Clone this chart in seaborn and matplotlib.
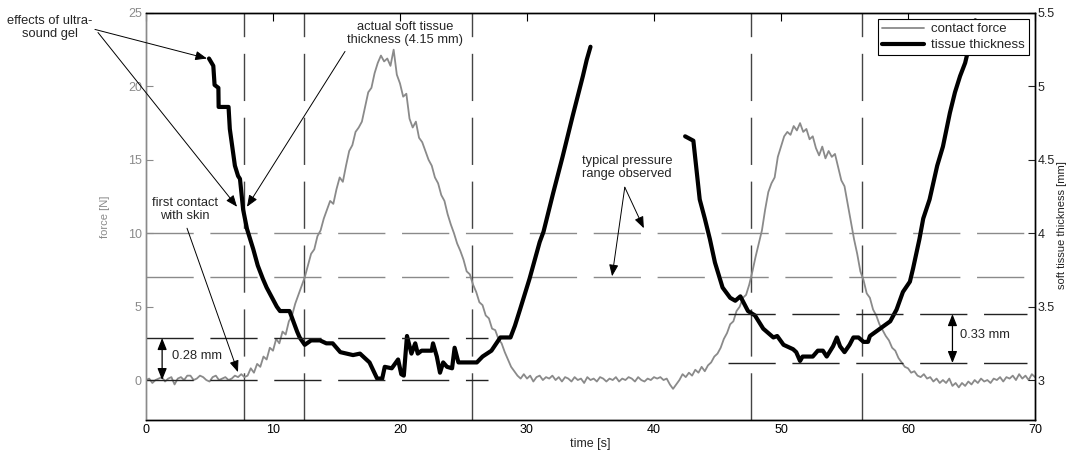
import matplotlib
matplotlib.use("Agg")
import matplotlib.pyplot as plt
from matplotlib.lines import Line2D
import seaborn as sns

# contact force [N], sampled every 0.25 s from 0 to 70 s
force_t = [i * 0.25 for i in range(281)]
force_n = [
    # 0 - 8 s
    0.0, 0.1, -0.2, 0.0, 0.1, 0.2, -0.1, 0.1, 0.2, -0.3, 0.1, 0.2, 0.0, 0.3, 0.3, 0.0,
    0.1, 0.3, 0.2, 0.0, -0.1, 0.2, 0.3, 0.0, 0.1, 0.2, 0.0, 0.1, 0.3, 0.2, 0.4, 0.2, 0.3,
    # 8.25 - 16 s
    0.8, 0.5, 1.1, 0.9, 1.6, 1.4, 2.2, 2.0, 2.8, 2.5, 3.3, 3.1, 4.0, 4.4, 5.2, 5.8,
    6.4, 7.0, 7.8, 8.6, 8.9, 9.8, 10.2, 11.0, 11.6, 12.2, 12.0, 13.0, 13.8, 13.5, 14.6, 15.6,
    # 16.25 - 24 s
    16.0, 16.9, 17.2, 17.6, 18.6, 19.6, 19.9, 20.9, 21.6, 22.1, 21.7, 21.9, 21.4, 22.5, 20.8, 20.2,
    19.3, 19.5, 17.8, 17.2, 17.6, 16.5, 16.2, 15.6, 15.0, 14.6, 13.8, 13.4, 12.6, 12.2, 11.3, 10.6,
    # 24.25 - 32 s
    10.0, 9.3, 8.8, 8.2, 7.4, 7.2, 6.5, 6.0, 5.3, 5.1, 4.4, 4.2, 3.5, 3.4, 2.8, 2.5,
    1.9, 1.4, 0.9, 0.6, 0.3, 0.1, 0.4, 0.1, 0.3, -0.1, 0.2, 0.3, 0.0, 0.2, 0.1, 0.3,
    # 32.25 - 40 s
    0.0, 0.2, -0.1, 0.2, 0.1, -0.1, 0.2, 0.0, 0.1, -0.2, 0.2, 0.0, 0.1, -0.1, 0.2, 0.1,
    -0.1, 0.1, 0.0, 0.2, -0.1, 0.1, 0.0, 0.2, 0.1, -0.1, 0.2, 0.0, -0.1, 0.1, 0.0, 0.2,
    # 40.25 - 48 s
    0.1, 0.2, 0.0, 0.1, -0.3, -0.6, -0.3, 0.0, 0.4, 0.2, 0.5, 0.3, 0.7, 0.5, 0.9, 0.6,
    1.0, 1.2, 1.6, 1.8, 2.2, 2.8, 3.2, 3.8, 4.0, 4.7, 5.0, 5.6, 5.8, 6.5, 7.4, 8.4,
    # 48.25 - 56 s
    9.3, 10.2, 11.6, 12.8, 13.4, 13.8, 15.2, 15.9, 16.6, 16.9, 16.7, 17.3, 17.0, 17.5, 16.9, 17.1,
    16.4, 16.6, 15.8, 15.3, 15.9, 15.1, 15.6, 15.2, 15.4, 14.5, 13.6, 13.2, 12.0, 10.8, 9.6, 8.6,
    # 56.25 - 64 s
    7.4, 6.8, 5.9, 5.6, 4.8, 4.4, 3.8, 3.4, 3.0, 2.7, 2.2, 2.0, 1.5, 1.2, 0.9, 0.8,
    0.5, 0.6, 0.3, 0.2, 0.4, 0.1, 0.2, -0.1, 0.1, -0.2, 0.0, -0.2, 0.1, -0.4, -0.2, -0.5,
    # 64.25 - 70 s
    -0.2, -0.4, -0.1, -0.3, 0.0, -0.2, 0.1, -0.1, 0.0, -0.2, 0.1, 0.0, 0.2, -0.1, 0.2, 0.1,
    0.3, 0.0, 0.4, 0.1, 0.3, 0.0, 0.4, 0.2,
]

# tissue thickness [mm], first loading cycle
thick1_t = [4.96, 5.3, 5.4, 5.7, 5.72, 6.5, 6.6, 7.0, 7.25, 7.4,
            7.65, 7.95, 8.45, 8.8, 9.2, 9.5, 10.3, 10.55, 11.3, 11.9,
            12.1, 12.5, 13.0, 13.7, 14.2, 14.7, 15.3, 16.3, 16.85, 17.6,
            18.2, 18.6, 18.8, 19.35, 19.85, 20.1, 20.3, 20.55, 20.9, 21.2,
            21.4, 21.7, 22.5, 22.6, 22.9, 23.15, 23.4, 23.7, 24.1, 24.3,
            24.6, 26.05, 26.5, 27.2, 27.9, 28.7, 29.05, 29.45, 30.2, 31.0,
            31.3, 32.05, 32.8, 33.6, 34.4, 34.7, 35.0]
thick1_mm = [5.19, 5.14, 5.01, 4.99, 4.86, 4.86, 4.71, 4.46, 4.39, 4.37,
             4.16, 4.03, 3.89, 3.78, 3.69, 3.63, 3.50, 3.47, 3.47, 3.33,
             3.29, 3.24, 3.27, 3.27, 3.25, 3.25, 3.19, 3.17, 3.18, 3.12,
             3.01, 3.01, 3.09, 3.08, 3.14, 3.04, 3.03, 3.30, 3.18, 3.25,
             3.18, 3.20, 3.20, 3.25, 3.16, 3.05, 3.12, 3.09, 3.08, 3.22,
             3.12, 3.12, 3.16, 3.20, 3.29, 3.29, 3.37, 3.48, 3.69, 3.94,
             4.01, 4.27, 4.52, 4.80, 5.07, 5.18, 5.27]

# tissue thickness [mm], second loading cycle
thick2_t = [42.45, 43.1, 43.6, 44.0, 44.4, 44.8, 45.4, 46.0, 46.4, 46.8,
            47.4, 47.95, 48.6, 49.4, 49.7, 50.2, 50.95, 51.2, 51.5, 51.7,
            52.5, 52.9, 53.3, 53.6, 54.1, 54.4, 54.65, 55.0, 55.4, 55.7,
            56.1, 56.5, 56.85, 57.0, 57.8, 58.6, 59.1, 59.6, 60.15, 60.4,
            60.9, 61.2, 61.7, 62.3, 62.75, 63.3, 63.7, 64.1, 64.5, 65.3]
thick2_mm = [4.66, 4.63, 4.23, 4.10, 3.96, 3.80, 3.63, 3.56, 3.54, 3.57,
             3.47, 3.44, 3.35, 3.29, 3.30, 3.24, 3.21, 3.19, 3.13, 3.16,
             3.16, 3.20, 3.20, 3.16, 3.23, 3.29, 3.23, 3.19, 3.24, 3.29,
             3.29, 3.26, 3.26, 3.30, 3.35, 3.40, 3.48, 3.60, 3.67, 3.76,
             3.96, 4.10, 4.23, 4.46, 4.59, 4.82, 4.96, 5.07, 5.16, 5.45]

# marker lines
event_times = [7.7, 12.45, 25.7, 47.6, 56.4]
pressure_range = [7, 10]          # N
gap1 = [3.0, 3.286]               # mm, first cycle
gap2 = [3.116, 3.449]             # mm, second cycle

force_ticks = [0, 5, 10, 15, 20, 25]
thick_ticks = [3, 3.5, 4, 4.5, 5, 5.5]
thick_tick_labels = ["3", "3.5", "4", "4.5", "5", "5.5"]
time_ticks = [0, 10, 20, 30, 40, 50, 60, 70]

GRAY = "#8a8a8a"
DASH = (0, (34, 12))

sns.set_style("white")
plt.rcParams["font.family"] = ["Liberation Sans", "DejaVu Sans"]

fig = plt.figure(figsize=(10.68, 4.57), dpi=100)
ax = fig.add_axes([0.1367, 0.081, 0.8324, 0.8906])
ax2 = ax.twinx()

# force curve on the left axis
sns.lineplot(x=force_t, y=force_n, ax=ax, color=GRAY, linewidth=1.3, errorbar=None)
for lvl in pressure_range:
    ax.axhline(lvl, color=GRAY, lw=1, ls=DASH, zorder=1)
for t in event_times:
    ax.axvline(t, color="#444444", lw=1, ls=DASH, zorder=1)

# thickness curves on the right axis
sns.lineplot(x=thick1_t, y=thick1_mm, ax=ax2, color="black", linewidth=3, errorbar=None)
sns.lineplot(x=thick2_t, y=thick2_mm, ax=ax2, color="black", linewidth=3, errorbar=None)
for lvl in gap1:
    ax2.plot([0, 26.9], [lvl, lvl], color="#222222", lw=1, ls=DASH)
for lvl in gap2:
    ax2.plot([45.8, 69.4], [lvl, lvl], color="#222222", lw=1, ls=DASH)

ax.set_xlim(0, 70)
ax.set_ylim(-2.72, 25)
ax2.set_ylim(2.728, 5.5)
ax.set_xticks(time_ticks)
ax.set_yticks(force_ticks)
ax2.set_yticks(thick_ticks)
ax2.set_yticklabels(thick_tick_labels)

ax.tick_params(axis="x", direction="in", length=6, width=0.8, top=True,
               labelsize=9, pad=3, colors="black")
ax.tick_params(axis="y", direction="in", length=5, width=0.8, labelsize=9,
               pad=3, colors=GRAY)
ax2.tick_params(axis="y", direction="in", length=5, width=0.8, labelsize=9,
                pad=2, colors="#222222")

for a in (ax, ax2):
    for side in ("top", "bottom", "right"):
        a.spines[side].set_color("black")
        a.spines[side].set_linewidth(1)
    a.spines["left"].set_color(GRAY)
    a.spines["left"].set_linewidth(1)

ax.set_xlabel("time [s]", fontsize=9, labelpad=1)
ax.set_ylabel("force [N]", fontsize=8, color=GRAY)
ax.yaxis.set_label_coords(-0.04, 0.5)
ax2.set_ylabel("soft tissue thickness [mm]", fontsize=8, color="#222222", rotation=90)
ax2.yaxis.set_label_coords(1.025, 0.48)

# annotations (right-axis coordinates)
arrow = dict(arrowstyle="-|>,head_length=0.5,head_width=0.2", color="black",
             lw=0.7, shrinkA=0, shrinkB=0, mutation_scale=14)
dbl = dict(arrowstyle="<|-|>,head_length=0.5,head_width=0.2", color="black",
           lw=0.9, shrinkA=0, shrinkB=0, mutation_scale=14)
txt = dict(fontsize=9.3, ha="center", va="center", linespacing=1.1)

ax2.text(-7.56, 5.40, "effects of ultra-\nsound gel", clip_on=False, **txt)
ax2.annotate("", xy=(4.8, 5.19), xytext=(-4.02, 5.388), arrowprops=arrow,
             annotation_clip=False)
ax2.annotate("", xy=(7.17, 4.18), xytext=(-3.78, 5.367), arrowprops=arrow,
             annotation_clip=False)

ax2.text(20.39, 5.36, "actual soft tissue\nthickness (4.15 mm)", **txt)
ax2.annotate("", xy=(7.95, 4.18), xytext=(15.67, 5.238), arrowprops=arrow)

ax2.text(3.07, 4.163, "first contact\nwith skin", **txt)
ax2.annotate("", xy=(7.24, 3.054), xytext=(3.23, 4.034), arrowprops=arrow)

ax2.annotate("", xy=(1.27, gap1[1]), xytext=(1.27, gap1[0]), arrowprops=dbl)
ax2.text(4.0, 3.163, "0.28 mm", **txt)

ax2.text(37.87, 4.449, "typical pressure\nrange observed", **txt)
ax2.annotate("", xy=(36.7, 3.707), xytext=(37.7, 4.313), arrowprops=arrow)
ax2.annotate("", xy=(39.2, 4.034), xytext=(37.7, 4.313), arrowprops=arrow)

ax2.annotate("", xy=(63.5, gap2[1]), xytext=(63.5, gap2[0]), arrowprops=dbl)
ax2.text(66.06, 3.306, "0.33 mm", **txt)

handles = [Line2D([], [], color=GRAY, lw=1.3), Line2D([], [], color="black", lw=3)]
leg = ax2.legend(handles, ["contact force", "tissue thickness"], loc="upper right",
                 bbox_to_anchor=(0.993, 0.985), borderaxespad=0, fontsize=9.5,
                 handlelength=3.2, fancybox=False, framealpha=1, borderpad=0.3,
                 labelspacing=0.3, handletextpad=0.5)
leg.get_frame().set_edgecolor("black")
leg.get_frame().set_linewidth(0.8)

fig.savefig("out.png", dpi=100)
